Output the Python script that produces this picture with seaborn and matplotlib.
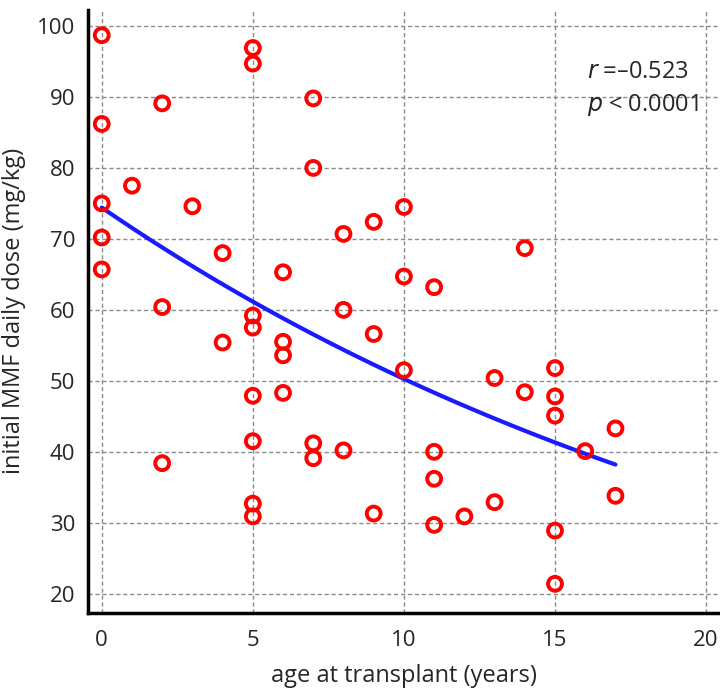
import numpy as np
import pandas as pd
import seaborn as sns
import matplotlib
matplotlib.use("Agg")
import matplotlib.pyplot as plt

# values
age = [0, 0, 0, 0, 0,
       1, 2, 2, 2, 3, 4, 4,
       5, 5, 5, 5, 5, 5, 5, 5,
       6, 6, 6, 6,
       7, 7, 7, 7,
       8, 8, 8,
       9, 9, 9,
       10, 10, 10,
       11, 11, 11, 11,
       12, 13, 13, 14, 14,
       15, 15, 15, 15, 15,
       16, 17, 17]
dose = [98.7, 86.2, 75.0, 70.2, 65.7,
        77.5, 89.1, 60.4, 38.4, 74.6, 68.0, 55.4,
        96.9, 94.7, 59.2, 57.5, 47.9, 41.5, 32.7, 30.9,
        65.3, 55.5, 53.6, 48.3,
        89.8, 80.0, 41.2, 39.1,
        70.7, 60.0, 40.2,
        72.4, 56.6, 31.3,
        74.5, 64.7, 51.5,
        63.2, 40.0, 36.2, 29.7,
        30.9, 50.4, 32.9, 68.7, 48.4,
        51.8, 47.8, 45.1, 28.9, 21.4,
        40.1, 43.3, 33.8]

x_ticks = [0, 5, 10, 15, 20]
y_ticks = [20, 30, 40, 50, 60, 70, 80, 90, 100]
stats_text = ["$r$ =\u20130.523", "$p$ < 0.0001"]

df = pd.DataFrame({"age": age, "dose": dose})

# exponential fit  dose = a*exp(b*age), lightly weighted toward larger doses
b, lna = np.polyfit(df["age"], np.log(df["dose"]), 1, w=df["dose"] ** 0.2)
fit = pd.DataFrame({"age": np.linspace(df["age"].min(), df["age"].max(), 50)})
fit["dose"] = np.exp(lna + b * fit["age"])

sns.set_style("white")
plt.rcParams["font.family"] = ["Open Sans", "DejaVu Sans"]

fig = plt.figure(figsize=(7.2, 6.91), dpi=100)
ax = fig.add_axes([0.122, 0.113, 0.878, 0.873])

ax.grid(True, color="#8a8a8a", linestyle=(0, (3, 2)), linewidth=1.0)
ax.set_axisbelow(True)

sns.lineplot(data=fit, x="age", y="dose", color="#1a1aff", lw=3, ax=ax, zorder=2)
sns.scatterplot(data=df, x="age", y="dose", ax=ax, s=100, marker="o",
                facecolor="none", edgecolor="#ff0000", linewidth=2.8, zorder=3)

ax.set_xlim(-0.46, 20.46)
ax.set_ylim(17.3, 102.3)
ax.set_xticks(x_ticks)
ax.set_yticks(y_ticks)
ax.tick_params(axis="x", direction="in", length=11, width=1.5, labelsize=16, pad=12)
ax.tick_params(axis="y", direction="inout", length=14, width=1.5, labelsize=16, pad=2)

for s in ["top", "right"]:
    ax.spines[s].set_visible(False)
for s in ["left", "bottom"]:
    ax.spines[s].set_linewidth(2.5)
    ax.spines[s].set_color("black")

ax.set_xlabel("age at transplant (years)", fontsize=17, labelpad=10)
ax.set_ylabel("initial MMF daily dose (mg/kg)", fontsize=17, labelpad=8)

ax.text(0.79, 0.897, stats_text[0], transform=ax.transAxes, fontsize=17, va="center")
ax.text(0.79, 0.842, stats_text[1], transform=ax.transAxes, fontsize=17, va="center")

fig.savefig("out.png", dpi=100)
